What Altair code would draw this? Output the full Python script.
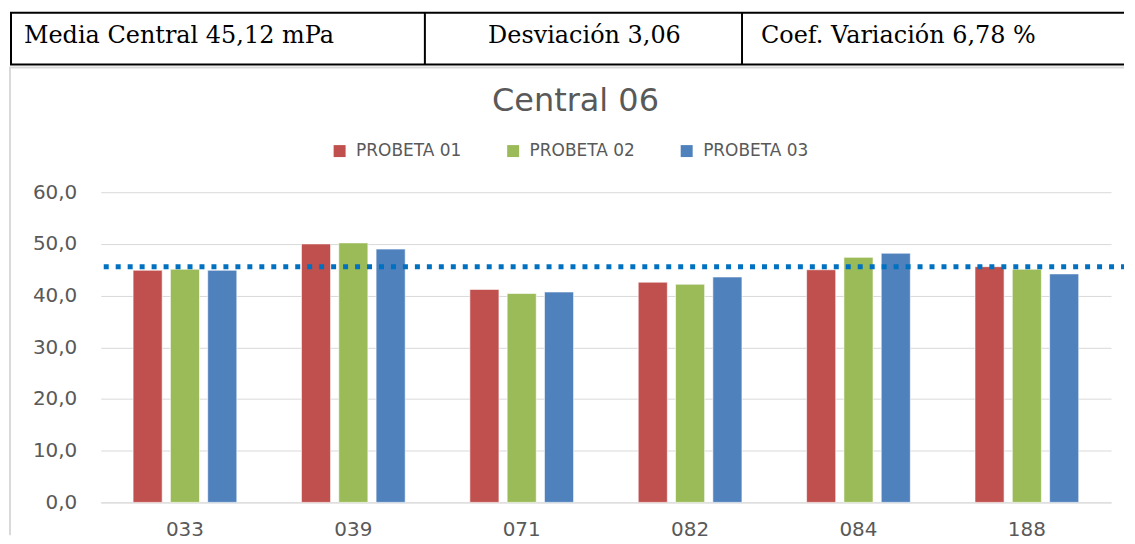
import altair as alt
import pandas as pd

# ---- data ----
categories = ["033", "039", "071", "082", "084", "188"]
series = ["PROBETA 01", "PROBETA 02", "PROBETA 03"]
probeta_01 = [44.9, 50.0, 41.2, 42.6, 45.0, 45.6]
probeta_02 = [45.1, 50.2, 40.4, 42.2, 47.4, 45.1]
probeta_03 = [44.9, 49.0, 40.7, 43.6, 48.2, 44.2]
mean_line = [45.6]
y_ticks = [0, 10, 20, 30, 40, 50, 60]
colors = ["#C0504D", "#9BBB59", "#4F81BD"]
header_texts = ["Media Central 45,12 mPa", "Desviación 3,06", "Coef. Variación 6,78 %"]
chart_title = "Central 06"

rows = []
for s, vals in zip(series, [probeta_01, probeta_02, probeta_03]):
    for c, v in zip(categories, vals):
        rows.append({"cat": c, "serie": s, "valor": v})
df = pd.DataFrame(rows)

# ---- layout (pixels, relative to the plot area) ----
W, H = 1013, 311
RIGHT = 1026
one = pd.DataFrame({"k": [0]})


def rule(x, x2, y, y2, color, w):
    return alt.Chart(one).mark_rule(color=color, strokeWidth=w).encode(
        x=alt.value(x), x2=alt.value(x2), y=alt.value(y), y2=alt.value(y2)
    )


def label(txt, x, y, align, font, size, color):
    return alt.Chart(one).mark_text(
        text=txt, font=font, fontSize=size, color=color, align=align, baseline="alphabetic"
    ).encode(x=alt.value(x), y=alt.value(y))


frame = [
    rule(-92, RIGHT, -125, -125, "#D9D9D9", 2),
    rule(-91, -91, -125, 344, "#D9D9D9", 2),
]
table = [
    rule(-91, RIGHT, -180, -180, "black", 2),
    rule(-91, RIGHT, -128, -128, "black", 2),
    rule(-90, -90, -180, -128, "black", 2),
    rule(325, 325, -180, -128, "black", 2),
    rule(643, 643, -180, -128, "black", 2),
]
texts = [
    label(header_texts[0], -77, -150, "left", "DejaVu Serif", 24, "black"),
    label(header_texts[1], 485, -150, "center", "DejaVu Serif", 24, "black"),
    label(header_texts[2], 662, -150, "left", "DejaVu Serif", 24, "black"),
    label(chart_title, 476, -81, "center", "DejaVu Sans", 32, "#595959"),
]

bars = alt.Chart(df).mark_bar(stroke="white", strokeWidth=1, strokeOpacity=0.6).encode(
    x=alt.X(
        "cat:N",
        sort=categories,
        scale=alt.Scale(paddingInner=0.384, paddingOuter=0.192),
        axis=alt.Axis(
            title=None, labelAngle=0, ticks=False, grid=False,
            domainColor="#D9D9D9", domainWidth=1,
            labelFont="DejaVu Sans", labelFontSize=20, labelColor="#595959", labelPadding=17,
        ),
    ),
    xOffset=alt.XOffset("serie:N", sort=series, scale=alt.Scale(paddingInner=0.22, paddingOuter=0)),
    y=alt.Y(
        "valor:Q",
        scale=alt.Scale(domain=[0, 60], nice=False),
        axis=alt.Axis(
            values=y_ticks, title=None, ticks=False, domain=False,
            gridColor="#D9D9D9", gridWidth=1,
            labelExpr="replace(format(datum.value, '.1f'), '.', ',')",
            labelFont="DejaVu Sans", labelFontSize=20, labelColor="#595959", labelPadding=24,
        ),
    ),
    color=alt.Color(
        "serie:N",
        sort=series,
        scale=alt.Scale(domain=series, range=colors),
        legend=alt.Legend(
            title=None, orient="none", legendX=231, legendY=-50, direction="horizontal",
            symbolType="square", symbolSize=144, symbolStrokeWidth=0, labelOffset=8,
            labelFont="DejaVu Sans", labelFontSize=17, labelColor="#595959", columnPadding=43,
        ),
    ),
)

mean = alt.Chart(pd.DataFrame({"media": mean_line})).mark_rule(
    color="#0070C0", strokeWidth=5, strokeDash=[5, 7]
).encode(y="media:Q", x=alt.value(3), x2=alt.value(RIGHT))

chart = alt.layer(*frame, *table, *texts, bars, mean).properties(
    width=W, height=H, padding={"left": 0, "top": 3, "right": 0, "bottom": 0}
).configure_view(stroke=None)

chart.save("out.html", embed_options={"renderer": "svg", "actions": False})
